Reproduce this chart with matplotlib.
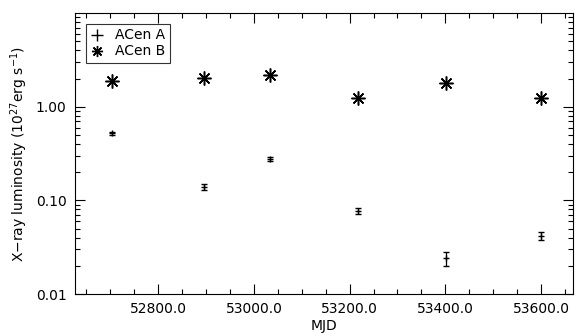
import numpy as np
import matplotlib
matplotlib.use("Agg")
import matplotlib.pyplot as plt
from matplotlib.lines import Line2D
from matplotlib.ticker import FixedLocator, LogLocator, NullFormatter, MultipleLocator

# X-ray luminosity of Alpha Centauri A and B vs MJD
mjd = [52704, 52896, 53033, 53217, 53402, 53600]
lum_a = [0.52, 0.14, 0.275, 0.077, 0.024, 0.042]
err_a = [0.02, 0.01, 0.012, 0.006, 0.004, 0.004]
lum_b = [1.90, 2.02, 2.18, 1.24, 1.80, 1.25]

yticks = [0.01, 0.10, 1.00]
ytick_labels = ["0.01", "0.10", "1.00"]
xticks = [52800, 53000, 53200, 53400, 53600]

plt.rcParams['font.family'] = ['DejaVu Sans']
plt.rcParams['font.size'] = 10

fig = plt.figure(figsize=(5.76, 3.36), dpi=100)
ax = fig.add_axes([0.130, 0.125, 0.865, 0.836])

ast = (8, 2, 0)
ax.errorbar(mjd, lum_a, yerr=err_a, fmt='+', color='black', ms=4, mew=1.0,
            elinewidth=0.9, capsize=2.5, capthick=0.9)
ax.plot(mjd, lum_b, linestyle='none', marker=ast, ms=10, mew=1.1, color='black')

ax.set_yscale('log')
ax.set_ylim(0.01, 10)
ax.set_xlim(52626, 53667)

ax.yaxis.set_major_locator(FixedLocator(yticks))
ax.set_yticklabels(ytick_labels)
ax.yaxis.set_minor_locator(LogLocator(base=10, subs=np.arange(2, 10)))
ax.yaxis.set_minor_formatter(NullFormatter())
ax.xaxis.set_major_locator(FixedLocator(xticks))
ax.set_xticklabels([f"{x:.1f}" for x in xticks])
ax.xaxis.set_minor_locator(MultipleLocator(50))

ax.tick_params(which='both', direction='in', top=True, right=True, width=0.8)
ax.tick_params(which='major', length=7, pad=6)
ax.tick_params(which='minor', length=3.5)
for s in ax.spines.values():
    s.set_linewidth(0.8)

ax.set_xlabel('MJD', labelpad=2)
ax.set_ylabel(r'X$-$ray luminosity (10$^{27}$erg s$^{-1}$)', labelpad=4)

handles = [Line2D([], [], ls='none', marker='+', ms=8, mew=1.0, color='black'),
           Line2D([], [], ls='none', marker=ast, ms=8, mew=1.0, color='black')]
leg = ax.legend(handles, ['ACen A', 'ACen B'], loc='upper left', frameon=True,
                fancybox=False, edgecolor='black', handlelength=1.0,
                handletextpad=0.8, borderpad=0.3, labelspacing=0.15,
                borderaxespad=0.8)
leg.get_frame().set_linewidth(0.8)

fig.savefig('out.png', dpi=100)
